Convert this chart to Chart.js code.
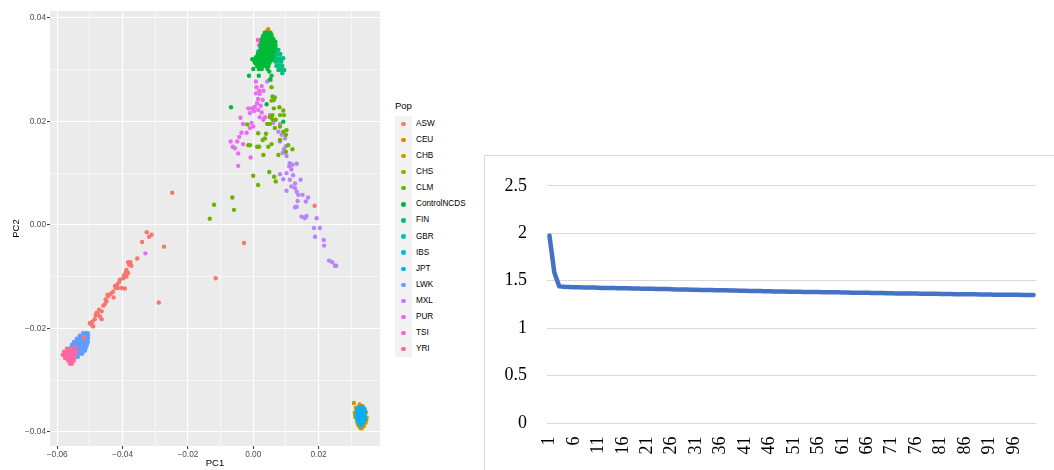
<!DOCTYPE html>
<html>
<head>
<meta charset="utf-8">
<script src="https://cdn.jsdelivr.net/npm/chart.js@4.4.0/dist/chart.umd.min.js"></script>
<style>
  html, body { margin: 0; padding: 0; background: #fff; }
  body { width: 1054px; height: 470px; overflow: hidden; position: relative; }
  #pcaCanvas { position: absolute; left: 0; top: 0; }
  #pcaLegend { position: absolute; left: 395px; top: 100px; font-family: "Liberation Sans", Arial, sans-serif; }
  #pcaLegend .title { font-size: 9.5px; line-height: 11px; color: #000; }
  #pcaLegend .keys { position: absolute; left: 0; top: 16px; width: 17px; background: #F2F2F2; }
  #pcaLegend .row { position: absolute; left: 0; height: 16px; white-space: nowrap; }
  #pcaLegend .dot { position: absolute; left: 6.4px; width: 4.3px; height: 4.3px; border-radius: 50%; }
  #pcaLegend .lab { position: absolute; left: 21px; font-size: 8.2px; line-height: 10px; color: #000; }
  #screeFrame { position: absolute; left: 484px; top: 155px; width: 640px; height: 400px; border: 1px solid #D9D9D9; box-sizing: border-box; }
  #screeCanvas { position: absolute; left: 484px; top: 155px; }
</style>
</head>
<body>
<canvas id="pcaCanvas" width="390" height="470"></canvas>
<div id="pcaLegend"><div class="title">Pop</div><div class="keys" id="legendKeys"></div></div>
<div id="screeFrame"></div>
<canvas id="screeCanvas" width="570" height="315"></canvas>
<script>
// --- PCA DATA (PC1, PC2 per sample, grouped by population) ---

const popNames = ['ASW', 'CEU', 'CHB', 'CHS', 'CLM', 'ControlNCDS', 'FIN', 'GBR', 'IBS', 'JPT', 'LWK', 'MXL', 'PUR', 'TSI', 'YRI'];
const popColors = ['#F8766D', '#E58700', '#C99800', '#A3A500', '#6BB100', '#00BA38', '#00BF7D', '#00C0AF', '#00BCD8', '#00B0F6', '#619CFF', '#B983FF', '#E76BF3', '#FD61D1', '#FF67A4'];
// bottom to top
const drawOrder = ['CEU', 'GBR', 'IBS', 'TSI', 'FIN', 'CHS', 'CHB', 'JPT', 'MXL', 'PUR', 'CLM', 'ControlNCDS', 'LWK', 'YRI', 'ASW'];

const asw = [
  [-0.0326, -0.0014], [-0.0319, -0.0023], [-0.0311, -0.0019], [-0.0340, -0.0033], [-0.0273, -0.0042],
  [-0.0355, -0.0065], [-0.0383, -0.0072], [-0.0376, -0.0072], [-0.0380, -0.0077], [-0.0373, -0.0079],
  [-0.0388, -0.0087], [-0.0390, -0.0092], [-0.0383, -0.0093], [-0.0395, -0.0097], [-0.0388, -0.0100],
  [-0.0398, -0.0103], [-0.0408, -0.0106], [-0.0411, -0.0111], [-0.0417, -0.0116], [-0.0423, -0.0118],
  [-0.0421, -0.0122], [-0.0414, -0.0122], [-0.0403, -0.0122], [-0.0393, -0.0123], [-0.0429, -0.0129],
  [-0.0446, -0.0135], [-0.0444, -0.0138], [-0.0427, -0.0140], [-0.0449, -0.0148], [-0.0454, -0.0153],
  [-0.0459, -0.0156], [-0.0472, -0.0164], [-0.0464, -0.0167], [-0.0480, -0.0170], [-0.0482, -0.0175],
  [-0.0469, -0.0177], [-0.0464, -0.0182], [-0.0485, -0.0182], [-0.0492, -0.0187], [-0.0500, -0.0190],
  [-0.0495, -0.0193], [-0.0490, -0.0196], [-0.0518, -0.0217], [-0.0546, -0.0236], [-0.0436, -0.0133],
  [-0.0452, -0.0144], [-0.0476, -0.0172], [-0.0289, -0.0150], [-0.0248, 0.0062], [0.0188, 0.0037],
  [-0.0028, -0.0035], [-0.0115, -0.0103]
];
const ceu = [
  [0.0043, 0.0375], [0.0051, 0.0370], [0.0036, 0.0370], [0.0056, 0.0367], [0.0046, 0.0378], [0.0040, 0.0366]
];
const chb = [
  [0.0308, -0.0344], [0.0326, -0.0347], [0.0314, -0.0353], [0.0311, -0.0362], [0.0313, -0.0372],
  [0.0318, -0.0380], [0.0345, -0.0362], [0.0347, -0.0372], [0.0344, -0.0382], [0.0338, -0.0389],
  [0.0331, -0.0393], [0.0325, -0.0389], [0.0335, -0.0350]
];
const chs = [
  [0.0312, -0.0367], [0.0346, -0.0377], [0.0321, -0.0386], [0.0341, -0.0355], [0.0328, -0.0392]
];
const clm = [
  [0.0053, 0.0280], [0.0056, 0.0266], [0.0059, 0.0248], [0.0066, 0.0246], [0.0063, 0.0241],
  [0.0056, 0.0240], [0.0080, 0.0227], [0.0063, 0.0225], [0.0092, 0.0221], [0.0094, 0.0212],
  [0.0082, 0.0212], [0.0059, 0.0212], [0.0051, 0.0208], [0.0059, 0.0204], [0.0069, 0.0203],
  [0.0043, 0.0195], [0.0051, 0.0195], [0.0082, 0.0190], [0.0066, 0.0187], [0.0102, 0.0183],
  [0.0092, 0.0180], [0.0100, 0.0174], [0.0015, 0.0177], [0.0039, 0.0176], [0.0036, 0.0167],
  [0.0029, 0.0164], [0.0012, 0.0151], [0.0018, 0.0151], [0.0056, 0.0156], [0.0046, 0.0151],
  [-0.0015, 0.0154], [-0.0010, 0.0154], [0.0082, 0.0164], [0.0107, 0.0154], [0.0120, 0.0146],
  [0.0100, 0.0141], [0.0031, 0.0135], [0.0077, 0.0135], [0.0000, 0.0095], [0.0015, 0.0077],
  [0.0049, 0.0102], [0.0064, 0.0093], [0.0069, 0.0084], [-0.0120, 0.0039], [-0.0064, 0.0053],
  [-0.0059, 0.0029], [-0.0133, 0.0012], [-0.0018, 0.0194]
];
const controlNcds = [
  [0.0035, 0.0371], [0.0044, 0.0371], [0.0053, 0.0371],
  [0.0030, 0.0365], [0.0038, 0.0365], [0.0047, 0.0365], [0.0056, 0.0365],
  [0.0026, 0.0359], [0.0035, 0.0359], [0.0044, 0.0359], [0.0053, 0.0359], [0.0062, 0.0359],
  [0.0026, 0.0353], [0.0035, 0.0353], [0.0044, 0.0353], [0.0053, 0.0353], [0.0062, 0.0353], [0.0068, 0.0353],
  [0.0023, 0.0347], [0.0032, 0.0347], [0.0041, 0.0347], [0.0050, 0.0347], [0.0059, 0.0347], [0.0068, 0.0347],
  [0.0023, 0.0342], [0.0032, 0.0342], [0.0041, 0.0342], [0.0050, 0.0342], [0.0059, 0.0342], [0.0068, 0.0342],
  [0.0020, 0.0336], [0.0029, 0.0336], [0.0038, 0.0336], [0.0047, 0.0336], [0.0056, 0.0336], [0.0065, 0.0336],
  [0.0014, 0.0330], [0.0023, 0.0330], [0.0032, 0.0330], [0.0041, 0.0330], [0.0050, 0.0330], [0.0059, 0.0330],
  [0.0008, 0.0324], [0.0017, 0.0324], [0.0026, 0.0324], [0.0035, 0.0324], [0.0044, 0.0324], [0.0053, 0.0324], [0.0062, 0.0324],
  [0.0002, 0.0318], [0.0011, 0.0318], [0.0020, 0.0318], [0.0029, 0.0318], [0.0038, 0.0318], [0.0047, 0.0318], [0.0056, 0.0318],
  [0.0005, 0.0313], [0.0014, 0.0313], [0.0023, 0.0313], [0.0032, 0.0313], [0.0041, 0.0313], [0.0050, 0.0313],
  [0.0011, 0.0307], [0.0020, 0.0307], [0.0029, 0.0307], [0.0038, 0.0307], [0.0047, 0.0307],
  [0.0017, 0.0301], [0.0026, 0.0301], [0.0044, 0.0301],
  [-0.0003, 0.0320], [0.0000, 0.0301], [-0.0013, 0.0288], [0.0017, 0.0288], [0.0049, 0.0296],
  [0.0056, 0.0288], [0.0051, 0.0281], [-0.0068, 0.0227], [0.0041, 0.0233], [0.0092, 0.0199]
];
const fin = [
  [0.0068, 0.0338], [0.0077, 0.0338], [0.0065, 0.0330], [0.0074, 0.0330], [0.0083, 0.0330],
  [0.0065, 0.0322], [0.0074, 0.0322], [0.0083, 0.0322], [0.0092, 0.0322], [0.0068, 0.0315],
  [0.0077, 0.0315], [0.0086, 0.0315], [0.0071, 0.0307], [0.0080, 0.0307], [0.0089, 0.0307],
  [0.0077, 0.0299], [0.0086, 0.0299], [0.0095, 0.0299], [0.0089, 0.0293]
];
const gbr = [
  [0.0045, 0.0355], [0.0050, 0.0340], [0.0072, 0.0338], [0.0062, 0.0322]
];
const ibs = [
  [0.0015, 0.0335], [0.0035, 0.0345], [0.0040, 0.0330]
];
const jpt = [
  [0.0323, -0.0352], [0.0329, -0.0352], [0.0335, -0.0352],
  [0.0318, -0.0358], [0.0324, -0.0358], [0.0330, -0.0358], [0.0336, -0.0358], [0.0341, -0.0358],
  [0.0317, -0.0364], [0.0323, -0.0364], [0.0329, -0.0364], [0.0335, -0.0364], [0.0341, -0.0364],
  [0.0317, -0.0370], [0.0323, -0.0370], [0.0329, -0.0370], [0.0335, -0.0370], [0.0341, -0.0370],
  [0.0319, -0.0376], [0.0325, -0.0376], [0.0331, -0.0376], [0.0337, -0.0376], [0.0342, -0.0376],
  [0.0323, -0.0382], [0.0329, -0.0382], [0.0335, -0.0382], [0.0329, -0.0387]
];
const lwk = [
  [-0.0521, -0.0209], [-0.0512, -0.0209], [-0.0506, -0.0209],
  [-0.0531, -0.0214], [-0.0521, -0.0214], [-0.0512, -0.0214], [-0.0506, -0.0214],
  [-0.0540, -0.0220], [-0.0531, -0.0220], [-0.0521, -0.0220], [-0.0512, -0.0220], [-0.0506, -0.0220],
  [-0.0549, -0.0226], [-0.0540, -0.0226], [-0.0531, -0.0226], [-0.0521, -0.0226], [-0.0512, -0.0226], [-0.0506, -0.0226],
  [-0.0555, -0.0232], [-0.0546, -0.0232], [-0.0537, -0.0232], [-0.0527, -0.0232], [-0.0518, -0.0232], [-0.0509, -0.0232],
  [-0.0558, -0.0237], [-0.0549, -0.0237], [-0.0540, -0.0237], [-0.0531, -0.0237], [-0.0521, -0.0237], [-0.0512, -0.0237],
  [-0.0561, -0.0243], [-0.0552, -0.0243], [-0.0543, -0.0243], [-0.0534, -0.0243], [-0.0524, -0.0243], [-0.0515, -0.0243],
  [-0.0561, -0.0249], [-0.0552, -0.0249], [-0.0543, -0.0249], [-0.0534, -0.0249], [-0.0524, -0.0249],
  [-0.0555, -0.0255], [-0.0546, -0.0255], [-0.0537, -0.0255]
];
const mxl = [
  [0.0043, 0.0304], [0.0043, 0.0277], [0.0061, 0.0197], [0.0082, 0.0195], [0.0077, 0.0180],
  [0.0087, 0.0174], [0.0097, 0.0167], [0.0082, 0.0161], [0.0100, 0.0152], [0.0094, 0.0146],
  [0.0090, 0.0139], [0.0102, 0.0133], [0.0112, 0.0119], [0.0120, 0.0116], [0.0133, 0.0118],
  [0.0110, 0.0113], [0.0117, 0.0107], [0.0102, 0.0100], [0.0122, 0.0096], [0.0082, 0.0098],
  [0.0092, 0.0088], [0.0112, 0.0087], [0.0128, 0.0080], [0.0145, 0.0087], [0.0117, 0.0074],
  [0.0128, 0.0071], [0.0133, 0.0064], [0.0102, 0.0066], [0.0138, 0.0058], [0.0151, 0.0058],
  [0.0168, 0.0053], [0.0161, 0.0045], [0.0136, 0.0046], [0.0133, 0.0035], [0.0128, 0.0034],
  [0.0148, 0.0016], [0.0158, 0.0013], [0.0163, 0.0017], [0.0194, 0.0013], [0.0186, -0.0006],
  [0.0204, -0.0006], [0.0189, -0.0023], [0.0216, -0.0029], [0.0217, -0.0040], [0.0232, -0.0069],
  [0.0242, -0.0072], [0.0250, -0.0079], [0.0254, -0.0079]
];
const pur = [
  [0.0008, 0.0277], [0.0010, 0.0266], [0.0026, 0.0268], [0.0018, 0.0259], [0.0008, 0.0254],
  [0.0031, 0.0259], [0.0020, 0.0253], [0.0015, 0.0243], [0.0029, 0.0241], [0.0012, 0.0235],
  [0.0023, 0.0230], [0.0005, 0.0228], [-0.0005, 0.0225], [-0.0015, 0.0225], [0.0002, 0.0220],
  [-0.0010, 0.0216], [0.0015, 0.0222], [0.0026, 0.0217], [0.0020, 0.0208], [0.0036, 0.0208],
  [0.0031, 0.0203], [0.0051, 0.0212], [-0.0039, 0.0207], [-0.0031, 0.0195], [-0.0005, 0.0197],
  [0.0000, 0.0190], [-0.0010, 0.0187], [-0.0020, 0.0178], [-0.0036, 0.0178], [-0.0043, 0.0170],
  [-0.0069, 0.0161], [-0.0049, 0.0161], [-0.0031, 0.0156], [-0.0056, 0.0148], [-0.0063, 0.0151],
  [-0.0046, 0.0138], [-0.0008, 0.0130], [-0.0046, 0.0114], [-0.0330, -0.0055]
];
const tsi = [
  [0.0018, 0.0347], [0.0020, 0.0336], [0.0014, 0.0357], [0.0021, 0.0355]
];
const yri = [
  [-0.0570, -0.0239], [-0.0561, -0.0239],
  [-0.0579, -0.0245], [-0.0570, -0.0245], [-0.0561, -0.0245], [-0.0552, -0.0245], [-0.0543, -0.0245],
  [-0.0583, -0.0251], [-0.0573, -0.0251], [-0.0564, -0.0251], [-0.0555, -0.0251], [-0.0546, -0.0251],
  [-0.0576, -0.0257], [-0.0567, -0.0257], [-0.0558, -0.0257], [-0.0549, -0.0257],
  [-0.0567, -0.0262], [-0.0558, -0.0262], [-0.0549, -0.0262],
  [-0.0561, -0.0268], [-0.0555, -0.0268]
];
const popPoints = [asw, ceu, chb, chs, clm, controlNcds, fin, gbr, ibs, jpt, lwk, mxl, pur, tsi, yri];

const pcaXRange = [-0.0622, 0.0388];
const pcaYRange = [-0.0427, 0.0413];
const pcaXTicks = [-0.06, -0.05, -0.04, -0.03, -0.02, -0.01, 0, 0.01, 0.02, 0.03];
const pcaYTicks = [-0.04, -0.03, -0.02, -0.01, 0, 0.01, 0.02, 0.03, 0.04];

// --- SCREE DATA ---

const screeLabels = [
  '1', '2', '3', '4', '5', '6', '7', '8', '9', '10', '11', '12', '13', '14', '15', '16', '17', '18', '19', '20',
  '21', '22', '23', '24', '25', '26', '27', '28', '29', '30', '31', '32', '33', '34', '35', '36', '37', '38', '39', '40',
  '41', '42', '43', '44', '45', '46', '47', '48', '49', '50', '51', '52', '53', '54', '55', '56', '57', '58', '59', '60',
  '61', '62', '63', '64', '65', '66', '67', '68', '69', '70', '71', '72', '73', '74', '75', '76', '77', '78', '79', '80',
  '81', '82', '83', '84', '85', '86', '87', '88', '89', '90', '91', '92', '93', '94', '95', '96', '97', '98', '99', '100'
];
const screeValues = [
  1.975, 1.585, 1.440, 1.436, 1.434, 1.432, 1.431, 1.429, 1.428, 1.427,
  1.426, 1.424, 1.423, 1.422, 1.421, 1.420, 1.419, 1.418, 1.417, 1.416,
  1.415, 1.414, 1.413, 1.412, 1.411, 1.409, 1.408, 1.407, 1.406, 1.405,
  1.404, 1.403, 1.402, 1.401, 1.400, 1.399, 1.398, 1.397, 1.396, 1.395,
  1.393, 1.392, 1.391, 1.390, 1.389, 1.388, 1.387, 1.386, 1.385, 1.384,
  1.383, 1.383, 1.382, 1.381, 1.380, 1.380, 1.379, 1.378, 1.377, 1.377,
  1.376, 1.375, 1.374, 1.373, 1.373, 1.372, 1.371, 1.370, 1.369, 1.368,
  1.367, 1.366, 1.366, 1.365, 1.364, 1.364, 1.363, 1.362, 1.362, 1.361,
  1.360, 1.360, 1.359, 1.358, 1.358, 1.357, 1.356, 1.356, 1.355, 1.355,
  1.354, 1.353, 1.353, 1.352, 1.352, 1.351, 1.351, 1.350, 1.350, 1.349
];
const screeYTicks = [0, 0.5, 1, 1.5, 2, 2.5];
const SCREE_LABEL_EVERY = 5;

// --- PCA SCATTER ---

const SANS = '"Liberation Sans", Arial, sans-serif';
const SERIF = '"Liberation Serif", "Times New Roman", serif';

function isMajor(v) {
  return Math.round(v * 100) % 2 === 0;
}
function fmtTick(v) {
  return v.toFixed(2).replace('-', '\u2212');
}

const panelBackground = {
  id: 'panelBackground',
  beforeDraw(chart, args, opts) {
    const { ctx, chartArea: a } = chart;
    ctx.save();
    ctx.fillStyle = opts.color;
    ctx.fillRect(a.left, a.top, a.right - a.left, a.bottom - a.top);
    ctx.restore();
  }
};

function ggAxis(range, ticks, size, title, titlePadding) {
  return {
    type: 'linear',
    min: range[0],
    max: range[1],
    afterBuildTicks: s => { s.ticks = ticks.map(v => ({ value: v })); },
    afterFit: s => { if (s.isHorizontal()) s.height = size; else s.width = size; },
    border: { display: false },
    grid: {
      color: '#FFFFFF',
      lineWidth: c => (c.tick && isMajor(c.tick.value)) ? 1.1 : 0.55,
      tickLength: 3,
      tickWidth: 1,
      tickColor: c => (c.tick && isMajor(c.tick.value)) ? '#333333' : 'rgba(0,0,0,0)'
    },
    ticks: {
      autoSkip: false,
      maxRotation: 0,
      padding: 1,
      color: '#4D4D4D',
      font: { family: SANS, size: 8.3 },
      callback: v => isMajor(v) ? fmtTick(v) : ''
    },
    title: {
      display: true,
      text: title,
      color: '#000000',
      font: { family: SANS, size: 9.5 },
      padding: titlePadding
    }
  };
}

new Chart(document.getElementById('pcaCanvas'), {
  type: 'scatter',
  data: {
    datasets: popNames.map((name, i) => ({
      label: name,
      data: popPoints[i],
      backgroundColor: popColors[i],
      borderWidth: 0,
      pointRadius: 2.2,
      pointHoverRadius: 2.2,
      order: drawOrder.length - drawOrder.indexOf(name)
    }))
  },
  options: {
    responsive: false,
    animation: false,
    layout: { padding: { top: 11, right: 10, bottom: 0, left: 0 } },
    plugins: {
      legend: { display: false },
      tooltip: { enabled: false },
      panelBackground: { color: '#EBEBEB' }
    },
    scales: {
      x: ggAxis(pcaXRange, pcaXTicks, 24, 'PC1', { top: 0, bottom: 1.3 }),
      y: ggAxis(pcaYRange, pcaYTicks, 50, 'PC2', { top: 10.5, bottom: 0 })
    }
  },
  plugins: [panelBackground]
});

// legend keys, one row per population
const keys = document.getElementById('legendKeys');
const ROW_H = 16.07;
keys.style.height = (ROW_H * popNames.length) + 'px';
popNames.forEach((name, i) => {
  const row = document.createElement('div');
  row.className = 'row';
  row.style.top = (i * ROW_H) + 'px';
  const dot = document.createElement('div');
  dot.className = 'dot';
  dot.style.top = (ROW_H / 2 - 2.15) + 'px';
  dot.style.background = popColors[i];
  const lab = document.createElement('div');
  lab.className = 'lab';
  lab.style.top = (ROW_H / 2 - 5) + 'px';
  lab.textContent = name;
  row.appendChild(dot);
  row.appendChild(lab);
  keys.appendChild(row);
});

// --- SCREE LINE ---

// category labels written upward under the axis, every fifth component
const verticalCategoryLabels = {
  id: 'verticalCategoryLabels',
  afterDraw(chart, args, opts) {
    const { ctx, chartArea } = chart;
    const xs = chart.scales.x;
    ctx.save();
    ctx.font = opts.size + 'px ' + SERIF;
    ctx.fillStyle = opts.color;
    ctx.textAlign = 'right';
    ctx.textBaseline = 'middle';
    screeLabels.forEach((lab, i) => {
      if (i % SCREE_LABEL_EVERY !== 0) return;
      ctx.save();
      ctx.translate(xs.getPixelForValue(i), chartArea.bottom + opts.gap);
      ctx.rotate(-Math.PI / 2);
      ctx.fillText(lab, 0, 0);
      ctx.restore();
    });
    ctx.restore();
  }
};

new Chart(document.getElementById('screeCanvas'), {
  type: 'line',
  data: {
    labels: screeLabels,
    datasets: [{
      data: screeValues,
      borderColor: '#4472C4',
      borderWidth: 4.5,
      borderCapStyle: 'round',
      borderJoinStyle: 'round',
      pointRadius: 0,
      tension: 0,
      fill: false
    }]
  },
  options: {
    responsive: false,
    animation: false,
    layout: { padding: { top: 29, right: 18, bottom: 0, left: 0 } },
    plugins: {
      legend: { display: false },
      tooltip: { enabled: false },
      verticalCategoryLabels: { size: 18, color: '#000000', gap: 13.5 }
    },
    scales: {
      x: {
        type: 'category',
        offset: true,
        afterFit: s => { s.height = 47; },
        border: { display: false },
        grid: { display: false, drawTicks: false },
        ticks: { display: false }
      },
      y: {
        min: 0,
        max: 2.5,
        afterBuildTicks: s => { s.ticks = screeYTicks.map(v => ({ value: v })); },
        afterFit: s => { s.width = 63; },
        border: { display: false },
        grid: { color: '#D9D9D9', lineWidth: 1, drawTicks: false },
        ticks: {
          padding: 20,
          color: '#000000',
          font: { family: SERIF, size: 18 },
          callback: v => String(v)
        }
      }
    }
  },
  plugins: [verticalCategoryLabels]
});
</script>
</body>
</html>
